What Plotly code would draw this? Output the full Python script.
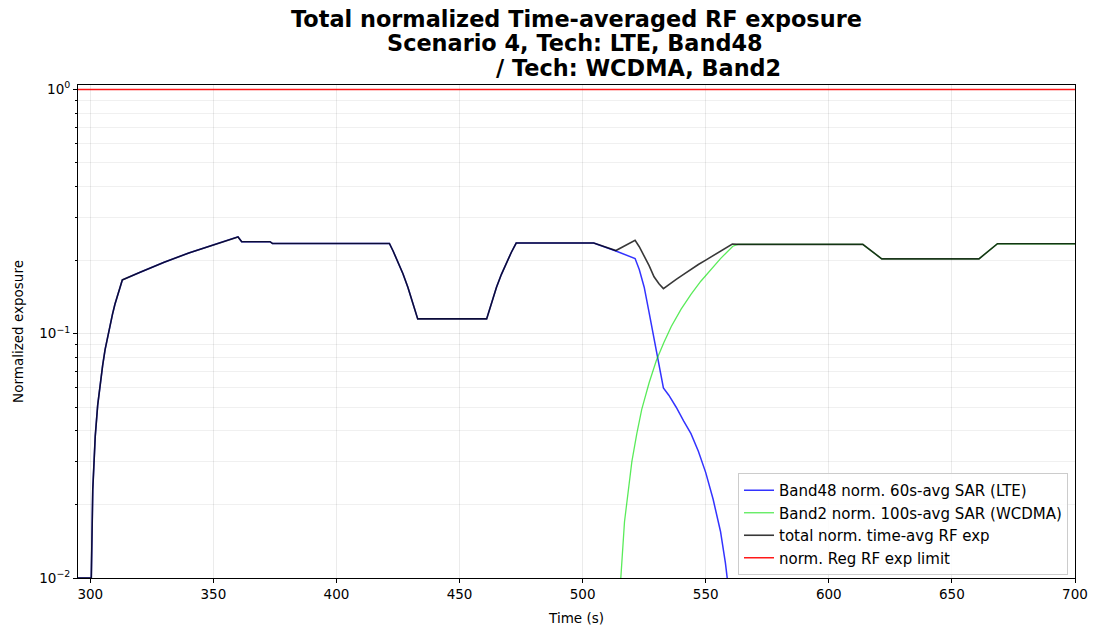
import plotly.graph_objects as go

# ---------------- data ----------------
t_lte = [295, 300, 300.4, 301, 302, 303, 304, 305, 306, 307, 308, 309, 310, 311, 312, 313,
         320, 330, 340, 350, 360, 361.5, 373, 374, 421.5, 423, 425, 427, 429, 431, 433,
         461, 463, 465, 467, 469, 471, 473, 504.5, 513.5, 521.3, 523, 525, 527, 529, 531,
         532.8, 535, 538, 541, 544, 547, 550, 553, 556, 558, 560, 562]
lte = [0.01, 0.01, 0.01, 0.023, 0.038, 0.051, 0.063, 0.074, 0.086, 0.097, 0.109, 0.12, 0.132,
       0.143, 0.155, 0.166, 0.178, 0.196, 0.214, 0.231, 0.249, 0.238, 0.238, 0.234, 0.234,
       0.218, 0.197, 0.176, 0.155, 0.134, 0.115, 0.115, 0.135, 0.155, 0.175, 0.195, 0.215,
       0.235, 0.235, 0.218, 0.203, 0.183, 0.155, 0.122, 0.096, 0.076, 0.060, 0.056, 0.050,
       0.044, 0.039, 0.033, 0.027, 0.021, 0.0155, 0.0115, 0.0078, 0.004]

t_wcdma = [513.5, 515.5, 517, 518, 520, 522, 524, 527, 530, 533, 536, 540, 544, 548, 552,
           556, 561, 563, 613.8, 621.5, 661, 668.5, 700]
wcdma = [0.003, 0.01, 0.017, 0.0205, 0.030, 0.039, 0.049, 0.063, 0.078, 0.092, 0.107, 0.126,
         0.145, 0.164, 0.183, 0.203, 0.228, 0.232, 0.232, 0.2025, 0.2025, 0.2335, 0.2335]

t_total = [295, 300, 300.4, 301, 302, 303, 304, 305, 306, 307, 308, 309, 310, 311, 312, 313,
           320, 330, 340, 350, 360, 361.5, 373, 374, 421.5, 423, 425, 427, 429, 431, 433,
           461, 463, 465, 467, 469, 471, 473, 504.5, 513.5, 521.3, 523, 525, 527, 529, 531,
           532.8, 535, 538, 541, 544, 547, 550, 553, 556, 558, 560.8, 563, 613.8, 621.5,
           661, 668.5, 700]
total = [0.01, 0.01, 0.01, 0.023, 0.038, 0.051, 0.063, 0.074, 0.086, 0.097, 0.109, 0.12, 0.132,
         0.143, 0.155, 0.166, 0.178, 0.196, 0.214, 0.231, 0.249, 0.238, 0.238, 0.234, 0.234,
         0.218, 0.197, 0.176, 0.155, 0.134, 0.115, 0.115, 0.135, 0.155, 0.175, 0.195, 0.215,
         0.235, 0.235, 0.219, 0.241, 0.227, 0.209, 0.19, 0.171, 0.16, 0.153, 0.159, 0.167,
         0.175, 0.184, 0.192, 0.200, 0.209, 0.218, 0.224, 0.233, 0.232, 0.232, 0.2025,
         0.2025, 0.2335, 0.2335]

t_limit = [295, 700]
limit = [1.0, 1.0]

x_ticks = [300, 350, 400, 450, 500, 550, 600, 650, 700]
y_ticks = [0.01, 0.1, 1]
y_tick_text = ["10<sup>−2</sup>", "10<sup>−1</sup>", "10<sup>0</sup>"]
y_minor = [0.02, 0.03, 0.04, 0.05, 0.06, 0.07, 0.08, 0.09,
           0.2, 0.3, 0.4, 0.5, 0.6, 0.7, 0.8, 0.9]

names = ["Band48 norm. 60s-avg SAR (LTE)", "Band2 norm. 100s-avg SAR (WCDMA)",
         "total norm. time-avg RF exp", "norm. Reg RF exp limit"]

title_lines = ["Total normalized Time-averaged RF exposure",
               "Scenario 4, Tech: LTE, Band48",
               "/ Tech: WCDMA, Band2"]

# ---------------- figure ----------------
FONT = "DejaVu Sans"
W, H = 1093, 630
fig = go.Figure()
fig.add_trace(go.Scatter(x=t_lte, y=lte, mode="lines", name=names[0],
                         line=dict(color="rgba(0,0,255,0.8)", width=1.5)))
fig.add_trace(go.Scatter(x=t_wcdma, y=wcdma, mode="lines", name=names[1],
                         line=dict(color="rgba(0,225,0,0.65)", width=1.3)))
fig.add_trace(go.Scatter(x=t_total, y=total, mode="lines", name=names[2],
                         line=dict(color="rgba(0,0,0,0.78)", width=1.6)))
fig.add_trace(go.Scatter(x=t_limit, y=limit, mode="lines", name=names[3],
                         line=dict(color="rgba(255,0,0,0.9)", width=1.5)))

# plot area in window pixels: x 78..1075, y 85..578
PL, PR, PT, PB = 78, 1075, 85, 578
def px_x(x):
    return (x - PL) / (PR - PL)
def px_y(y):
    return (PB - y) / (PB - PT)

title_pos = [(576.5, 18.5), (574.5, 43), (638.5, 68)]
for txt, (cx, cy) in zip(title_lines, title_pos):
    fig.add_annotation(text="<b>" + txt + "</b>", x=px_x(cx), y=px_y(cy),
                       xref="paper", yref="paper", xanchor="center", yanchor="middle",
                       showarrow=False, font=dict(family=FONT, size=22.4, color="black"))

fig.update_layout(
    width=W, height=H,
    margin=dict(l=PL, r=W - PR, t=PT, b=H - PB),
    paper_bgcolor="white", plot_bgcolor="white",
    font=dict(family=FONT, size=13, color="black"),
    showlegend=True,
    legend=dict(x=px_x(1068), y=px_y(575), xanchor="right", yanchor="bottom",
                bgcolor="rgba(255,255,255,0.85)", bordercolor="#cccccc", borderwidth=1,
                font=dict(family=FONT, size=15), tracegroupgap=0),
)

fig.update_xaxes(
    range=[295, 700], tickvals=x_ticks, ticks="outside", ticklen=4, tickcolor="black",
    showline=True, linecolor="black", linewidth=1, mirror=True, automargin=False,
    showgrid=True, gridcolor="rgba(0,0,0,0.08)", gridwidth=1, zeroline=False,
    title=dict(text="Time (s)", font=dict(family=FONT, size=13.5), standoff=12),
    tickfont=dict(family=FONT, size=13.5),
)
fig.update_yaxes(
    type="log", range=[-2, 0.018], tickvals=y_ticks, ticktext=y_tick_text,
    ticks="outside", ticklen=4, tickcolor="black", automargin=False,
    showline=True, linecolor="black", linewidth=1, mirror=True,
    showgrid=True, gridcolor="rgba(0,0,0,0.08)", gridwidth=1, zeroline=False,
    minor=dict(tickvals=y_minor, ticks="outside", ticklen=2, tickcolor="black",
               showgrid=True, gridcolor="rgba(0,0,0,0.06)", gridwidth=1),
    title=dict(text="Normalized exposure", font=dict(family=FONT, size=13.5), standoff=12),
    tickfont=dict(family=FONT, size=13.5),
)

fig.write_html("out.html",
               config={"displayModeBar": False},
               post_script="document.body.style.margin='0';"
                           "document.body.style.overflow='hidden';")
